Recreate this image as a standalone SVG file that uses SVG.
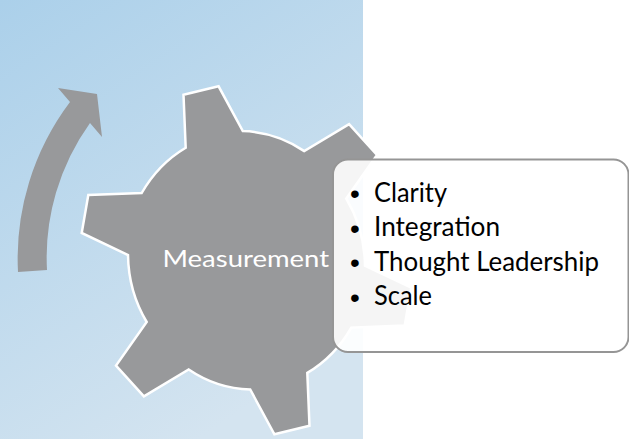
<svg xmlns="http://www.w3.org/2000/svg" width="629" height="439" viewBox="0 0 629 439">
  <defs>
    <linearGradient id="bg" x1="0" y1="0" x2="0.55" y2="1">
      <stop offset="0" stop-color="#abd0ea"/>
      <stop offset="1" stop-color="#d4e4f0"/>
    </linearGradient>
  </defs>
  <style>
    .gray { fill: #98999b; }
    .gear { fill: #98999b; stroke: #ffffff; stroke-width: 2.5; stroke-linejoin: miter; }
    .callout { fill: #ffffff; fill-opacity: 0.9; stroke: #959595; stroke-width: 2; }
    .label { font-family: Lato, "Liberation Sans", sans-serif; fill: #ffffff; font-size: 24px; }
    .item { font-family: Lato, "Liberation Sans", sans-serif; fill: #000000; font-size: 26px; }
    .bullet { font-family: "Liberation Sans", Arial, sans-serif; fill: #000000; font-size: 28px; }
  </style>

  <rect id="background" x="0" y="0" width="363" height="439" fill="url(#bg)"/>

  <g id="connectors">
    <path class="gray" d="M18,272 A260,260 0 0 1 70,102 L58,88 L97,94 L102,137 L90,123 A231,231 0 0 0 47,270 Z"/>
  </g>

  <g id="gear-measurement">
    <path class="gear" d="M185.7,147.7 L183.5,94.8 L218.6,86.3 L242.8,131.1
      A120,128 0 0 1 304.3,151.1 L349.1,124.2 L377,155 L346.3,198.6
      A120,128 0 0 1 365,265.6 L411.3,287.6 L404.7,325.6 L351.3,327.6
      A120,128 0 0 1 307.3,372.9 L309.5,425.8 L274.4,434.3 L250.2,389.5
      A120,128 0 0 1 188.7,369.5 L143.9,396.4 L116,365.6 L146.7,322
      A120,128 0 0 1 128,255 L81.7,233 L88.3,195 L141.7,193
      A120,128 0 0 1 185.7,147.7 Z"/>
    <text class="label" x="162.5" y="267.3" textLength="166.5" lengthAdjust="spacingAndGlyphs">Measurement</text>
  </g>

  <g id="callout-list">
    <rect class="callout" x="333" y="159.5" width="295.5" height="192.5" rx="15" ry="15"/>
    <text class="bullet" x="350" y="203.2">•</text>
    <text class="bullet" x="350" y="237.8">•</text>
    <text class="bullet" x="350" y="272.4">•</text>
    <text class="bullet" x="350" y="307">•</text>
    <text class="item" x="374" y="201.5" textLength="73" lengthAdjust="spacingAndGlyphs">Clarity</text>
    <text class="item" x="374" y="236.1" textLength="126" lengthAdjust="spacingAndGlyphs">Integration</text>
    <text class="item" x="374" y="270.7" textLength="225" lengthAdjust="spacingAndGlyphs">Thought Leadership</text>
    <text class="item" x="374" y="305.3" textLength="58" lengthAdjust="spacingAndGlyphs">Scale</text>
  </g>
</svg>
